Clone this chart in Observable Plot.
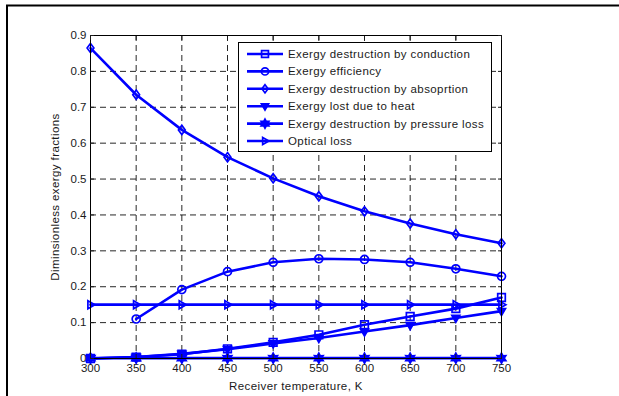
<!DOCTYPE html>
<html><head><meta charset="utf-8">
<script src="https://cdn.jsdelivr.net/npm/d3@7"></script>
<script src="https://cdn.jsdelivr.net/npm/@observablehq/plot@0.6"></script>
<style>body{margin:0;background:#fff}</style>
</head><body><div id="chart"></div>
<script>
// ---- data ----
const temperature = [300, 350, 400, 450, 500, 550, 600, 650, 700, 750];
const conduction  = [0, 0.004, 0.012, 0.027, 0.045, 0.066, 0.094, 0.117, 0.139, 0.170];
const efficiency  = [null, 0.110, 0.192, 0.242, 0.268, 0.278, 0.276, 0.268, 0.250, 0.229];
const absorption  = [0.865, 0.735, 0.637, 0.561, 0.502, 0.452, 0.410, 0.376, 0.346, 0.321];
const heatLost    = [0, 0.004, 0.013, 0.026, 0.042, 0.057, 0.075, 0.093, 0.113, 0.132];
const pressure    = [0.001, 0.001, 0.001, 0.001, 0.001, 0.001, 0.001, 0.001, 0.001, 0.001];
const optical     = [0.150, 0.150, 0.150, 0.150, 0.150, 0.150, 0.150, 0.150, 0.150, 0.150];
const seriesNames = [
  "Exergy destruction by conduction",
  "Exergy efficiency",
  "Exergy destruction by absoprtion",
  "Exergy lost due to heat",
  "Exergy destruction by pressure loss",
  "Optical loss"
];
const xTicks = [300, 350, 400, 450, 500, 550, 600, 650, 700, 750];
const yTicks = [0, 0.1, 0.2, 0.3, 0.4, 0.5, 0.6, 0.7, 0.8, 0.9];
const yTickLabels = ["0", "0.1", "0.2", "0.3", "0.4", "0.5", "0.6", "0.7", "0.8", "0.9"];
const xLabel = "Receiver temperature, K";
const yLabel = "Diminsionless exergy fractions";

// ---- marker shapes ----
const rad = s => Math.sqrt(s / Math.PI);
const mSquare = {draw(c, s){ const r = rad(s) * 0.95; c.moveTo(-r,-r); c.lineTo(r,-r); c.lineTo(r,r); c.lineTo(-r,r); c.closePath(); }};
const mCircle = {draw(c, s){ const r = rad(s); c.moveTo(r,0); c.arc(0,0,r,0,2*Math.PI); }};
const mDiamond = {draw(c, s){ const r = rad(s); c.moveTo(0,-1.15*r); c.lineTo(0.85*r,0); c.lineTo(0,1.15*r); c.lineTo(-0.85*r,0); c.closePath(); }};
const mTriDown = {draw(c, s){ const r = rad(s); c.moveTo(-r,-0.65*r); c.lineTo(r,-0.65*r); c.lineTo(0,1.1*r); c.closePath(); }};
const mTriRight = {draw(c, s){ const r = rad(s); c.moveTo(-0.65*r,-r); c.lineTo(1.1*r,0); c.lineTo(-0.65*r,r); c.closePath(); }};
const mHexagram = {draw(c, s){ const R = rad(s)*1.25, ri = R*0.55;
  for (let i = 0; i < 12; i++) { const a = -Math.PI/2 + i*Math.PI/6, rr = i%2 ? ri : R;
    const px = rr*Math.cos(a), py = rr*Math.sin(a); i ? c.lineTo(px,py) : c.moveTo(px,py); }
  c.closePath(); }};

const blue = "#0000ff";
const seriesValues = [conduction, efficiency, absorption, heatLost, pressure, optical];
const markers = [mSquare, mCircle, mDiamond, mTriDown, mHexagram, mTriRight];
const filled = [false, false, false, true, true, false];

const rows = seriesValues.map((vals, i) =>
  temperature.map((t, j) => ({T: t, v: vals[j], s: seriesNames[i]})).filter(d => d.v != null));

const marks = [
  Plot.gridX(xTicks, {stroke: "#000", strokeOpacity: 0.85, strokeDasharray: "6,4"}),
  Plot.gridY(yTicks, {stroke: "#000", strokeOpacity: 0.85, strokeDasharray: "6,4"}),
];
rows.forEach((r, i) => {
  marks.push(Plot.line(r, {x: "T", y: "v", stroke: blue, strokeWidth: 2.6}));
});
rows.forEach((r, i) => {
  marks.push(Plot.dot(r, {x: "T", y: "v", symbol: markers[i], r: 4, stroke: blue, strokeWidth: 1.7,
    fill: filled[i] ? blue : "none"}));
});
marks.push(
  Plot.frame({stroke: "#000"}),
  Plot.axisX(xTicks, {anchor: "bottom", tickSize: -4, tickPadding: 9, fontSize: 11.5, tickFormat: d => String(d)}),
  Plot.axisX(xTicks, {anchor: "top", tickSize: -4, tickFormat: () => ""}),
  Plot.axisY(yTicks, {anchor: "left", tickSize: -4, tickPadding: 8, fontSize: 11.5, tickFormat: (d, i) => yTickLabels[yTicks.indexOf(d)]}),
  Plot.axisY(yTicks, {anchor: "right", tickSize: -4, tickFormat: () => ""}),
  Plot.text([yLabel], {text: d => d, frameAnchor: "left", dx: -35, rotate: -90, fontSize: 11.5,
    textAnchor: "middle", lineAnchor: "middle", className: "albl"}),
  Plot.text([xLabel], {text: d => d, frameAnchor: "bottom", dy: 28, fontSize: 11.5,
    textAnchor: "middle", lineAnchor: "middle", className: "albl"})
);

const plot = Plot.plot({
  width: 619, height: 396,
  marginLeft: 90, marginRight: 118, marginTop: 35, marginBottom: 38,
  x: {domain: [300, 750], label: null},
  y: {domain: [0, 0.9], label: null},
  style: {fontFamily: "'Liberation Sans', Arial, sans-serif", fontSize: "11px", color: "#1a1a1a", background: "#fff"},
  marks
});
document.getElementById("chart").appendChild(plot);

const svg = d3.select(plot);
svg.selectAll(".albl text").attr("letter-spacing", "0.4px");

// outer figure border
svg.append("path").attr("d", "M7,396V5.5H619").attr("fill", "none").attr("stroke", "#000").attr("stroke-width", 2);

// legend
const lg = svg.append("g").attr("font-family", "'Liberation Sans', Arial, sans-serif").attr("font-size", 11.5)
  .attr("text-anchor", "start");
lg.append("rect").attr("x", 238.5).attr("y", 42.5).attr("width", 253).attr("height", 109)
  .attr("fill", "#fff").attr("stroke", "#000");
seriesNames.forEach((name, i) => {
  const y = 54 + i * 17.4;
  const g = lg.append("g").attr("transform", `translate(0,${y})`);
  g.append("line").attr("x1", 247).attr("x2", 283).attr("stroke", blue).attr("stroke-width", 2.6);
  g.append("path").attr("transform", "translate(265,0)")
    .attr("d", d3.symbol(markers[i], Math.PI * 3.6 * 3.6)())
    .attr("fill", filled[i] ? blue : "none").attr("stroke", blue).attr("stroke-width", 1.7);
  g.append("text").attr("x", 288).attr("dy", "0.35em").attr("text-anchor", "start")
    .attr("letter-spacing", "0.4px").attr("fill", "#1a1a1a").text(name);
});
</script>
</body></html>
